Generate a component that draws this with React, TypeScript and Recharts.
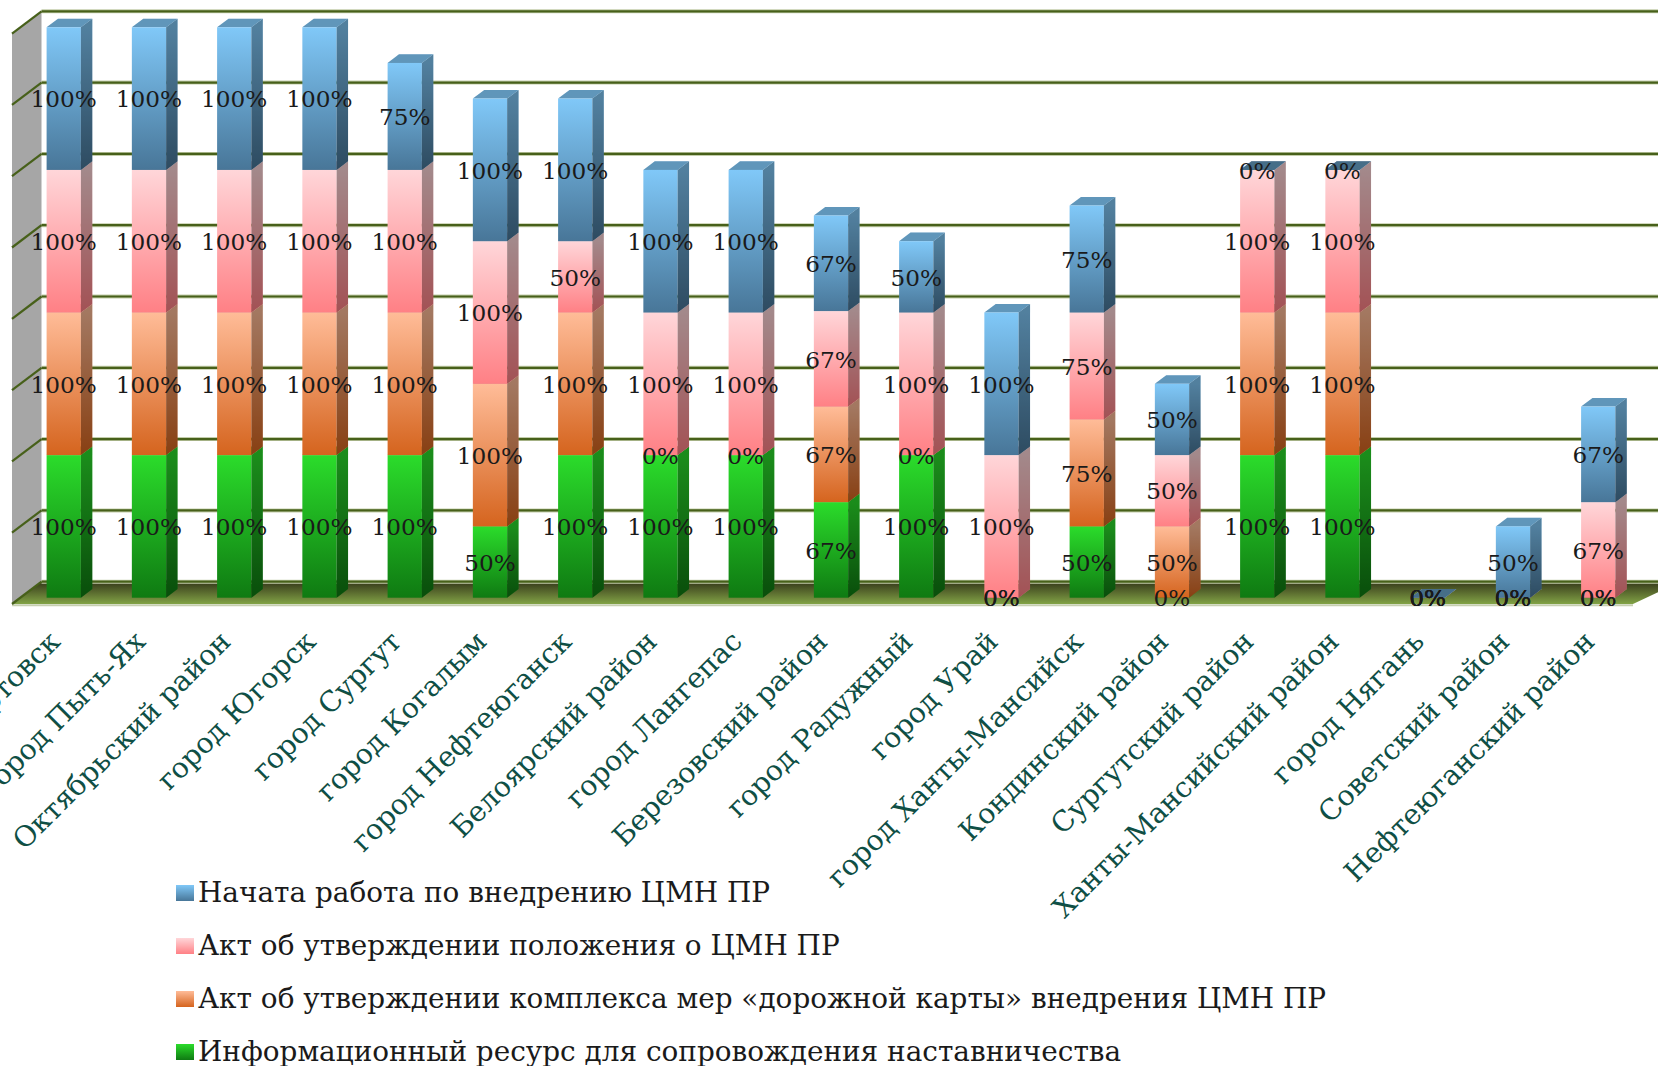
import React from 'react';
import { BarChart, Bar, XAxis, YAxis, CartesianGrid, LabelList, Legend } from 'recharts';

const categories = ['город Нижневартовск','город Пыть-Ях','Октябрьский район','город Югорск','город Сургут','город Когалым','город Нефтеюганск','Белоярский район','город Лангепас','Березовский район','город Радужный','город Урай','город Ханты-Мансийск','Кондинский район','Сургутский район','Ханты-Мансийский район','город Нягань','Советский район','Нефтеюганский район'];
const infoResource = [100,100,100,100,100,50,100,100,100,67,100,0,50,0,100,100,0,0,0];
const roadmapAct = [100,100,100,100,100,100,100,0,0,67,0,0,75,50,100,100,0,0,0];
const regulationAct = [100,100,100,100,100,100,50,100,100,67,100,100,75,50,100,100,0,0,67];
const workStarted = [100,100,100,100,75,100,100,100,100,67,50,100,75,50,0,0,0,50,67];

const rows = categories.map((name, i) => ({ name, infoResource: infoResource[i], roadmapAct: roadmapAct[i], regulationAct: regulationAct[i], workStarted: workStarted[i] }));

const W = 1658, H = 1066;
const TOP = 27.3, BOTTOM = 597.7, LEFT = 21.6, STEP = 85.25;
const DX = 11.4, DY = 8.6;
const FONT = '"DejaVu Serif", serif';

const series = [
  { key: 'infoResource', name: 'Информационный ресурс для сопровождения наставничества', top: '#2bdc2b', bottom: '#0f7a12' },
  { key: 'roadmapAct', name: 'Акт об утверждении комплекса мер «дорожной карты» внедрения ЦМН ПР', top: '#ffbc98', bottom: '#d5641e' },
  { key: 'regulationAct', name: 'Акт об утверждении положения о ЦМН ПР', top: '#ffd6d9', bottom: '#ff8085' },
  { key: 'workStarted', name: 'Начата работа по внедрению ЦМН ПР', top: '#80c8f8', bottom: '#487698' },
];

function Box(props: any) {
  const { x, y, width, height, top, bottom, id } = props;
  if (width == null) return null;
  const r = x + width;
  const b = y + height;
  return (
    <g>
      <defs>
        <linearGradient id={id} gradientUnits="userSpaceOnUse" x1="0" x2="0" y1={y} y2={Math.max(b, y + 1)}>
          <stop offset="0" stopColor={top} />
          <stop offset="1" stopColor={bottom} />
        </linearGradient>
      </defs>
      <polygon points={`${x},${y} ${r},${y} ${r + DX},${y - DY} ${x + DX},${y - DY}`} fill={top} />
      <polygon points={`${x},${y} ${r},${y} ${r + DX},${y - DY} ${x + DX},${y - DY}`} fill="#000" fillOpacity={height < 1 ? 0.45 : 0.25} />
      <rect x={x} y={y} width={width} height={height} fill={`url(#${id})`} />
      <polygon points={`${r},${y} ${r + DX},${y - DY} ${r + DX},${b - DY} ${r},${b}`} fill={`url(#${id})`} />
      <polygon points={`${r},${y} ${r + DX},${y - DY} ${r + DX},${b - DY} ${r},${b}`} fill="#000" fillOpacity={0.36} />
    </g>
  );
}

function GridLine(props: any) {
  const { y1, index } = props;
  const back = y1 - 16;
  const isFloor = Math.abs(y1 - BOTTOM) < 1;
  return (
    <g key={index}>
      {isFloor && (
        <g>
          <defs>
            <linearGradient id="floorFill" x1="0" x2="0" y1="0" y2="1">
              <stop offset="0" stopColor="#35381a" />
              <stop offset="1" stopColor="#82a346" />
            </linearGradient>
          </defs>
          <polygon points={`12,${TOP + 6} 41.5,${TOP - 16} 41.5,${BOTTOM - 16} 12,${BOTTOM + 6.3}`} fill="#a6a6a6" />
          <polygon points={`41.5,${back} 1680,${back} 1633,${BOTTOM + 6.3} 12,${BOTTOM + 6.3}`} fill="url(#floorFill)" />
          <line x1={12} x2={1633} y1={BOTTOM + 7.5} y2={BOTTOM + 7.5} stroke="#c6cfb0" strokeWidth={2} />
        </g>
      )}
      <line x1={41.5} x2={W} y1={back} y2={back} stroke="#c3cdaa" strokeWidth={4} />
      <line x1={41.5} x2={W} y1={back} y2={back} stroke="#47601a" strokeWidth={2.2} />
      <line x1={12} x2={41.5} y1={back + 22.3} y2={back} stroke="#47601a" strokeWidth={2.2} />
    </g>
  );
}

function XTick(props: any) {
  const { x, y, payload } = props;
  return (
    <text x={x - 2.5} y={y + 37.5} transform={`rotate(-45 ${x - 2.5} ${y + 37.5})`} textAnchor="end" fill="#0f4f45" fontFamily={FONT} fontSize={28.2}>
      {payload.value}
    </text>
  );
}

function LegendBox(props: any) {
  const items = [...(props.payload || [])];
  items.sort((a: any, b: any) => series.findIndex((s) => s.key === b.dataKey) - series.findIndex((s) => s.key === a.dataKey));
  return (
    <div>
      {items.map((it: any) => {
        const s = series.find((v) => v.key === it.dataKey)!;
        return (
          <div key={s.key} style={{ display: 'flex', alignItems: 'center', height: 53 }}>
            <span style={{ width: 18, height: 16, marginRight: 4, background: `linear-gradient(${s.top}, ${s.bottom})` }} />
            <span style={{ fontFamily: FONT, fontSize: 27.9, color: '#1a1a1a', whiteSpace: 'nowrap' }}>{s.name}</span>
          </div>
        );
      })}
    </div>
  );
}

export default function App() {
  return (
    <div style={{ position: 'absolute', left: 0, top: 0, width: W, height: H, overflow: 'hidden', background: '#fff' }}>
      <BarChart width={W} height={H} data={rows} barSize={34.3} barGap={0}
        margin={{ left: LEFT, right: W - LEFT - STEP * 19, top: TOP, bottom: 0 }}>
        <CartesianGrid vertical={false} horizontal={(p: any) => <GridLine {...p} />} />
        <XAxis dataKey="name" interval={0} axisLine={false} tickLine={false} tick={<XTick />} height={H - BOTTOM} />
        <YAxis hide domain={[0, 400]} ticks={[0,50,100,150,200,250,300,350,400]} width={0} />
        <Legend verticalAlign="middle" align="center" content={<LegendBox />} wrapperStyle={{ position: 'absolute', left: 176, top: 866, width: 1200 }} />
        {series.map((s) => (
          <Bar key={s.key} dataKey={s.key} name={s.name} stackId="a" isAnimationActive={false}
            shape={(p: any) => <Box {...p} top={s.top} bottom={s.bottom} id={`g-${s.key}-${p.index}`} />}>
            <LabelList dataKey={s.key} position="center" fill="#1a1a1a" fontFamily={FONT} fontSize={23.2} dy={0.5}
              formatter={(v: any) => `${v}%`} />
          </Bar>
        ))}
      </BarChart>
    </div>
  );
}
